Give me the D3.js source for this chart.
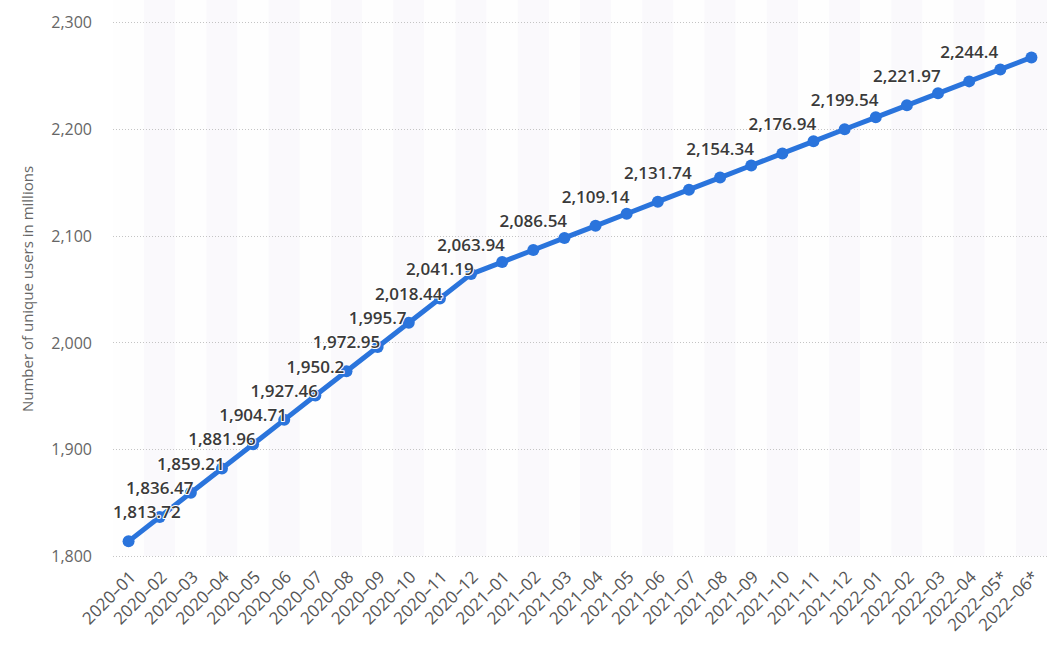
<!DOCTYPE html>
<html>
<head>
<meta charset="utf-8">
<script src="https://cdn.jsdelivr.net/npm/d3@7"></script>
<style>
  html, body { margin: 0; padding: 0; background: #ffffff; }
  svg { display: block; font-family: "Open Sans", "Noto Sans", sans-serif; }
</style>
</head>
<body>
<svg id="chart" width="1063" height="668"></svg>
<script>
// ---- data ----
const categories = ["2020\u201301","2020\u201302","2020\u201303","2020\u201304","2020\u201305","2020\u201306",
  "2020\u201307","2020\u201308","2020\u201309","2020\u201310","2020\u201311","2020\u201312",
  "2021\u201301","2021\u201302","2021\u201303","2021\u201304","2021\u201305","2021\u201306",
  "2021\u201307","2021\u201308","2021\u201309","2021\u201310","2021\u201311","2021\u201312",
  "2022\u201301","2022\u201302","2022\u201303","2022\u201304","2022\u201305*","2022\u201306*"];
const values = [1813.72,1836.47,1859.21,1881.96,1904.71,1927.46,1950.2,1972.95,1995.7,2018.44,2041.19,2063.94,
  2075.24,2086.54,2097.84,2109.14,2120.44,2131.74,2143.04,2154.34,2165.64,2176.94,2188.24,2199.54,
  2210.75,2221.97,2233.2,2244.4,2255.6,2266.8];
const labelShown = [1,1,1,1,1,1,1,1,1,1,1,1, 0,1,0,1,0,1,0,1,0,1,0,1, 0,1,0,1,0,0];
const yTicks = [1800,1900,2000,2100,2200,2300];
const yTitle = "Number of unique users in millions";

// ---- layout ----
const svg = d3.select("#chart");
const plot = {left: 113, right: 1047, top: 0, bottom: 556};
const x = d3.scaleBand().domain(categories).range([plot.left, plot.right]).paddingInner(0).paddingOuter(0);
const y = d3.scaleLinear().domain([1800, 2300]).range([556, 22]);
const cx = d => x(d) + x.bandwidth() / 2;
const fmt = d3.format(",");

// alternating column bands
svg.append("g").selectAll("rect").data(categories).join("rect")
  .attr("x", d => x(d)).attr("width", x.bandwidth())
  .attr("y", plot.top).attr("height", plot.bottom - plot.top)
  .attr("fill", (d, i) => i % 2 === 1 ? "#faf9fc" : "#fefefe");

// grid lines
svg.append("g").selectAll("line").data(yTicks).join("line")
  .attr("x1", plot.left).attr("x2", plot.right)
  .attr("y1", d => Math.round(y(d)) + 0.5).attr("y2", d => Math.round(y(d)) + 0.5)
  .attr("stroke", "#c4c4c4").attr("stroke-width", 1).attr("stroke-dasharray", "1,2");

// y axis labels
const yAxis = d3.axisLeft(y).tickValues(yTicks).tickFormat(fmt).tickSize(0).tickPadding(0);
const gy = svg.append("g").attr("transform", "translate(92,0)").call(yAxis);
gy.select(".domain").remove();
gy.selectAll("text").attr("font-size", 16).attr("fill", "#666666")
  .attr("font-family", "'Open Sans', sans-serif").attr("dy", "0.35em");

// y title
svg.append("text")
  .attr("transform", `translate(33,${(22 + 556) / 2}) rotate(-90)`)
  .attr("text-anchor", "middle")
  .attr("font-size", 15).attr("fill", "#666666")
  .text(yTitle);

// x axis labels
const xAxis = d3.axisBottom(x).tickSize(0).tickPadding(0);
const gx = svg.append("g").attr("transform", "translate(0,566)").call(xAxis);
gx.select(".domain").remove();
gx.selectAll("text")
  .attr("font-size", 17).attr("fill", "#555555")
  .attr("font-family", "'Open Sans', sans-serif")
  .attr("text-anchor", "end")
  .attr("dy", "0.35em")
  .attr("transform", "translate(4,8) rotate(-45)");

// line
const line = d3.line().x((d, i) => cx(categories[i])).y(d => y(d));
svg.append("path").datum(values)
  .attr("d", line).attr("fill", "none")
  .attr("stroke", "#2a74dc").attr("stroke-width", 5)
  .attr("stroke-linejoin", "round").attr("stroke-linecap", "round");

// markers
svg.append("g").selectAll("circle").data(values).join("circle")
  .attr("cx", (d, i) => cx(categories[i])).attr("cy", d => y(d))
  .attr("r", 6).attr("fill", "#2a74dc");

// data labels
const labels = svg.append("g").selectAll("text")
  .data(values.map((v, i) => ({v, i})).filter(d => labelShown[d.i]))
  .join("text")
  .attr("text-anchor", "middle")
  .attr("font-size", 17).attr("font-weight", 600)
  .attr("fill", "#3a3a3a")
  .attr("stroke", "#ffffff").attr("stroke-width", 2).attr("paint-order", "stroke")
  .attr("stroke-linejoin", "round")
  .attr("x", d => cx(categories[d.i]))
  .attr("y", d => y(d.v) - 23)
  .text(d => fmt(d.v));

// justify labels inside the plot horizontally
labels.each(function() {
  const b = this.getBBox();
  const cur = +this.getAttribute("x");
  if (b.x < plot.left) this.setAttribute("x", cur + (plot.left - b.x));
  else if (b.x + b.width > plot.right) this.setAttribute("x", cur - (b.x + b.width - plot.right));
});
</script>
</body>
</html>
